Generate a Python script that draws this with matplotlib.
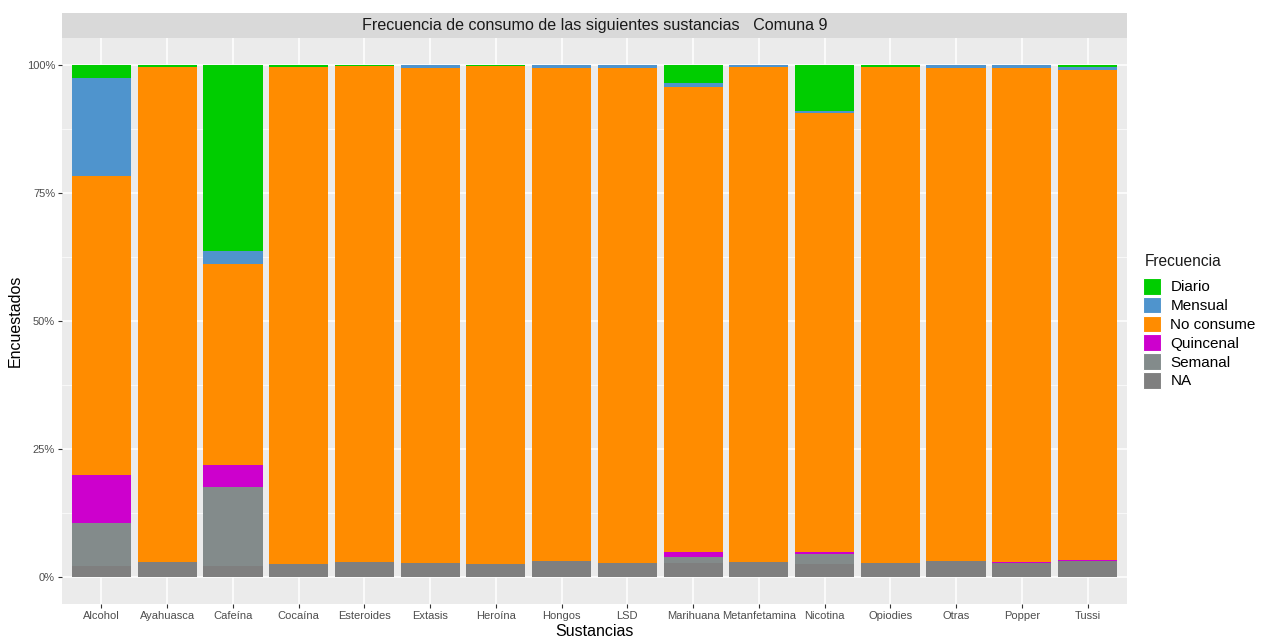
import numpy as np
import matplotlib
matplotlib.use("Agg")
import matplotlib.pyplot as plt
from matplotlib.patches import Patch
from matplotlib.ticker import FixedLocator

plt.rcParams['font.family'] = ['Liberation Sans', 'DejaVu Sans']

# share of respondents (%) by substance and frequency
sustancias = ['Alcohol', 'Ayahuasca', 'Cafeína', 'Cocaína', 'Esteroides', 'Extasis',
              'Heroína', 'Hongos', 'LSD', 'Marihuana', 'Metanfetamina', 'Nicotina',
              'Opiodies', 'Otras', 'Popper', 'Tussi']
na_vals   = [2.1, 2.9, 2.1, 2.5, 2.9, 2.8, 2.5, 3.1, 2.7, 2.7, 2.9, 2.5, 2.8, 3.1, 2.7, 3.1]
semanal   = [8.4, 0.0, 15.5, 0.0, 0.0, 0.0, 0.0, 0.0, 0.0, 1.2, 0.0, 1.9, 0.0, 0.0, 0.0, 0.0]
quincenal = [9.5, 0.0, 4.3, 0.0, 0.0, 0.0, 0.0, 0.0, 0.0, 0.9, 0.0, 0.55, 0.0, 0.0, 0.3, 0.2]
mensual   = [19.2, 0.0, 2.6, 0.0, 0.0, 0.4, 0.0, 0.5, 0.4, 0.8, 0.3, 0.4, 0.0, 0.5, 0.4, 0.6]
diario    = [2.5, 0.4, 36.3, 0.3, 0.2, 0.1, 0.2, 0.1, 0.1, 3.5, 0.1, 9.0, 0.4, 0.0, 0.1, 0.3]
no_consume = [100 - a - b - c - d - e for a, b, c, d, e
              in zip(na_vals, semanal, quincenal, mensual, diario)]

# stacked from the bottom up
capas = [('NA', na_vals, '#7F7F7F'),
         ('Semanal', semanal, '#838B8B'),
         ('Quincenal', quincenal, '#CD00CD'),
         ('No consume', no_consume, '#FF8C00'),
         ('Mensual', mensual, '#4F94CD'),
         ('Diario', diario, '#00CD00')]

fig = plt.figure(figsize=(12.62, 6.37), dpi=100)
ax = fig.add_axes([62/1262, 33/637, (1127-62)/1262, (604-38)/637])
ax.set_facecolor('#EBEBEB')

x = np.arange(1, len(sustancias) + 1)
base = np.zeros(len(sustancias))
for nombre, vals, color in capas:
    v = np.array(vals) / 100.0
    ax.bar(x, v, width=0.9, bottom=base, color=color, linewidth=0, zorder=3)
    base += v

ax.set_xlim(0.4, len(sustancias) + 0.6)
ax.set_ylim(-0.0527, 1.0527)
ax.set_xticks(x)
ax.set_xticklabels(sustancias, fontsize=8, color='#4D4D4D')
ax.set_yticks([0, 0.25, 0.5, 0.75, 1.0])
ax.set_yticklabels(['0%', '25%', '50%', '75%', '100%'], fontsize=8, color='#4D4D4D')
ax.yaxis.set_minor_locator(FixedLocator([0.125, 0.375, 0.625, 0.875]))
ax.tick_params(axis='both', which='major', length=3, color='#333333', pad=2)
ax.tick_params(axis='y', which='minor', length=0)
ax.grid(True, which='major', color='white', linewidth=1.1, zorder=0)
ax.grid(True, which='minor', axis='y', color='white', linewidth=0.5, zorder=0)
ax.set_axisbelow(True)
for s in ax.spines.values():
    s.set_visible(False)

ax.set_xlabel('Sustancias', fontsize=11.5, labelpad=2)
ax.set_ylabel('Encuestados', fontsize=11.5, labelpad=3)

# facet strip with the title
strip = fig.add_axes([62/1262, (637-38)/637, (1127-62)/1262, 25/637])
strip.set_facecolor('#D9D9D9')
strip.set_xticks([])
strip.set_yticks([])
for s in strip.spines.values():
    s.set_visible(False)
strip.text(0.5, 0.5, 'Frecuencia de consumo de las siguientes sustancias   Comuna 9',
           ha='center', va='center', fontsize=11.6, color='#1A1A1A',
           transform=strip.transAxes)

# legend: title drawn apart so the gap above the keys can be set freely
order = ['Diario', 'Mensual', 'No consume', 'Quincenal', 'Semanal', 'NA']
colores = {n: c for n, _, c in capas}
handles = [Patch(facecolor=colores[n], edgecolor='white', linewidth=0.8, label=n)
           for n in order]
fig.text(1145/1262, 1 - 261/637, 'Frecuencia', ha='left', va='center',
         fontsize=11.2, color='#1A1A1A')
fig.legend(handles=handles, loc='upper left',
           bbox_to_anchor=(1143/1262, 1 - 278/637), frameon=False,
           fontsize=11, handlelength=1.2, handleheight=1.3,
           handletextpad=0.6, labelspacing=0.14, borderaxespad=0,
           borderpad=0)

fig.savefig('out.png', dpi=100)
